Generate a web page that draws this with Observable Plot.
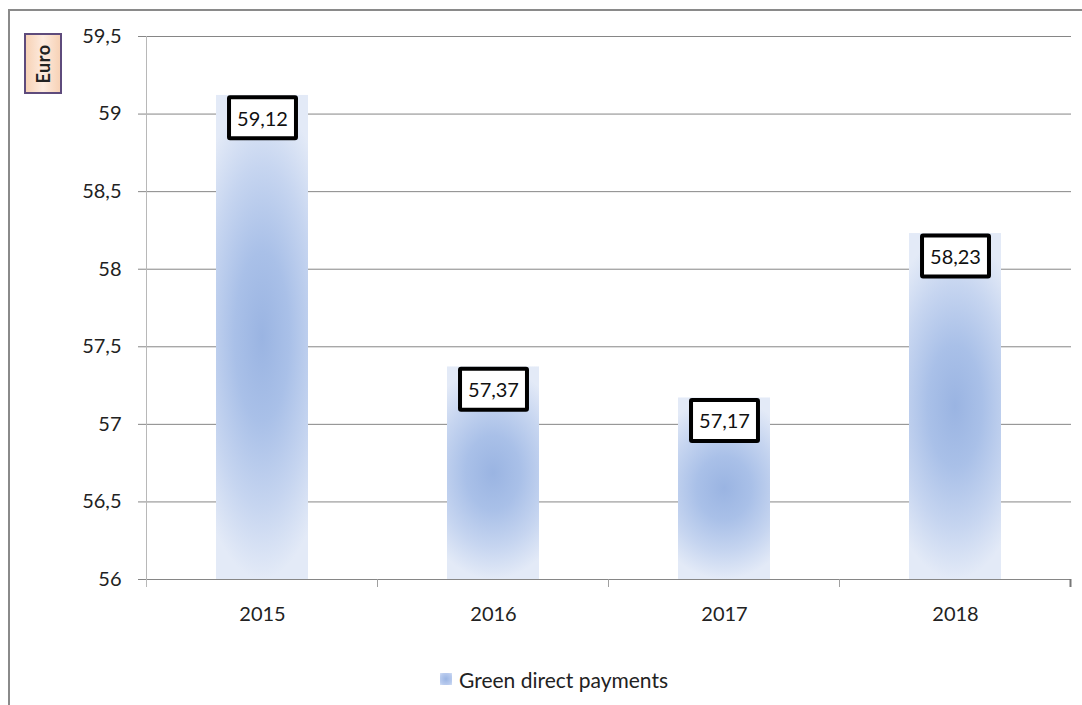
<!DOCTYPE html>
<html>
<head>
<meta charset="utf-8">
<script src="https://cdn.jsdelivr.net/npm/d3@7"></script>
<script src="https://cdn.jsdelivr.net/npm/@observablehq/plot@0.6"></script>
<style>
  html, body { margin: 0; padding: 0; background: #fff; }
  #wrap { position: relative; width: 1082px; height: 705px; overflow: hidden; background: #fff; font-family: Lato, "Open Sans", sans-serif; }
  #wrap svg { position: absolute; left: 0; top: 0; }
  #frame { position: absolute; left: 8px; top: 9px; width: 1200px; height: 800px; border-left: 2px solid #8a8a8a; border-top: 2px solid #8a8a8a; pointer-events: none; }
  #unit { position: absolute; left: 24px; top: 33px; width: 34px; height: 57px; border: 2px solid #5e4b7c;
          background: linear-gradient(to right, #f7d2b6, #fdebdf 50%, #f7d2b6); }
  #unit span { position: absolute; left: 50%; top: 50%; transform: translate(-50%, -50%) rotate(-90deg); font-weight: bold; font-size: 18px; color: #222; white-space: nowrap; letter-spacing: 0.5px; }
  #legend { position: absolute; left: 440px; top: 666px; height: 26px; display: flex; align-items: center; font-size: 21px; color: #222; }
  #legend i { display: inline-block; width: 12px; height: 12px; margin-right: 7px; background: radial-gradient(circle, #9bb5e3 0%, #b9cbee 70%, #d6e1f5 100%); }
</style>
</head>
<body>
<div id="wrap"></div>
<script>
const years = ["2015", "2016", "2017", "2018"];
const values = [59.12, 57.37, 57.17, 58.23];
const yDomain = [56, 59.5];
const yTicks = [56, 56.5, 57, 57.5, 58, 58.5, 59, 59.5];
const seriesName = "Green direct payments";
const unitLabel = "Euro";

const data = years.map((year, i) => ({year, value: values[i]}));
const fmt = v => String(v).replace(".", ",");

const plot = Plot.plot({
  width: 1082,
  height: 705,
  marginLeft: 146,
  marginRight: 11,
  marginTop: 36,
  marginBottom: 126,
  style: {fontFamily: "Lato, 'Open Sans', sans-serif", fontSize: "20px", color: "#222", background: "transparent"},
  x: {domain: years, paddingInner: 0.6, paddingOuter: 0.3, label: null},
  y: {domain: yDomain, label: null},
  marks: [
    Plot.gridY(yTicks, {stroke: "#868686", strokeOpacity: 1}),
    Plot.barY(data, {x: "year", y1: yDomain[0], y2: "value", fill: "url(#barGrad)"}),
    Plot.axisY(yTicks, {tickSize: 8, tickPadding: 17, tickFormat: fmt, stroke: "#868686", fontSize: 20}),
    Plot.axisX({tickSize: 0, tickPadding: 27, fontSize: 20}),
    Plot.ruleY([yDomain[0]], {stroke: "#868686"}),
    Plot.text(data, {x: "year", y: "value", text: d => fmt(d.value), dy: 24, fontSize: 20, fill: "#111"})
  ]
});

const wrap = document.getElementById("wrap");
wrap.appendChild(plot);

const svg = d3.select(plot);
const defs = svg.insert("defs", ":first-child");
const grad = defs.append("radialGradient")
  .attr("id", "barGrad")
  .attr("cx", 0.5).attr("cy", 0.5).attr("r", 0.5)
  .attr("gradientTransform", "translate(0.5,0.5) scale(1.7,1) translate(-0.5,-0.5)");
[[0, "#9ab4e2"], [0.35, "#a9c0e8"], [0.7, "#c6d5f0"], [1, "#e3eaf7"]].forEach(([o, c]) =>
  grad.append("stop").attr("offset", o).attr("stop-color", c));

// Axis line and category boundary ticks from the library's scales
const xs = plot.scale("x"), ys = plot.scale("y");
const x0 = xs.apply(years[0]) - (xs.step - xs.bandwidth) / 2;
const yb = ys.apply(yDomain[0]), yt = ys.apply(yDomain[1]);
const g = svg.append("g");
g.append("line").attr("x1", x0).attr("x2", x0).attr("y1", yt).attr("y2", yb + 8)
  .attr("stroke", "#b8b8b8");
d3.range(1, years.length + 1).forEach(i => {
  const x = x0 + i * xs.step;
  g.append("line").attr("x1", x).attr("x2", x).attr("y1", yb).attr("y2", yb + 8)
    .attr("stroke", i === years.length ? "#777" : "#a0a0a0").attr("stroke-width", i === years.length ? 2 : 1);
});

// Boxes behind value labels
svg.selectAll('g[aria-label="text"] text').each(function () {
  const t = this;
  const bb = t.getBBox();
  const cy = bb.y + bb.height / 2;
  const r = document.createElementNS("http://www.w3.org/2000/svg", "rect");
  const w = bb.width + 16, h = 41;
  r.setAttribute("x", bb.x + bb.width / 2 - w / 2);
  r.setAttribute("y", cy - h / 2);
  r.setAttribute("width", w);
  r.setAttribute("height", h);
  r.setAttribute("fill", "#fff");
  r.setAttribute("stroke", "#000");
  r.setAttribute("stroke-width", 4);
  r.setAttribute("rx", 1);
  if (t.getAttribute("transform")) r.setAttribute("transform", t.getAttribute("transform"));
  t.parentNode.insertBefore(r, t);
});

const frame = document.createElement("div");
frame.id = "frame";
wrap.appendChild(frame);

const unit = document.createElement("div");
unit.id = "unit";
unit.innerHTML = "<span></span>";
unit.firstChild.textContent = unitLabel;
wrap.appendChild(unit);

const legend = document.createElement("div");
legend.id = "legend";
legend.innerHTML = "<i></i><span></span>";
legend.querySelector("span").textContent = seriesName;
wrap.appendChild(legend);
</script>
</body>
</html>
